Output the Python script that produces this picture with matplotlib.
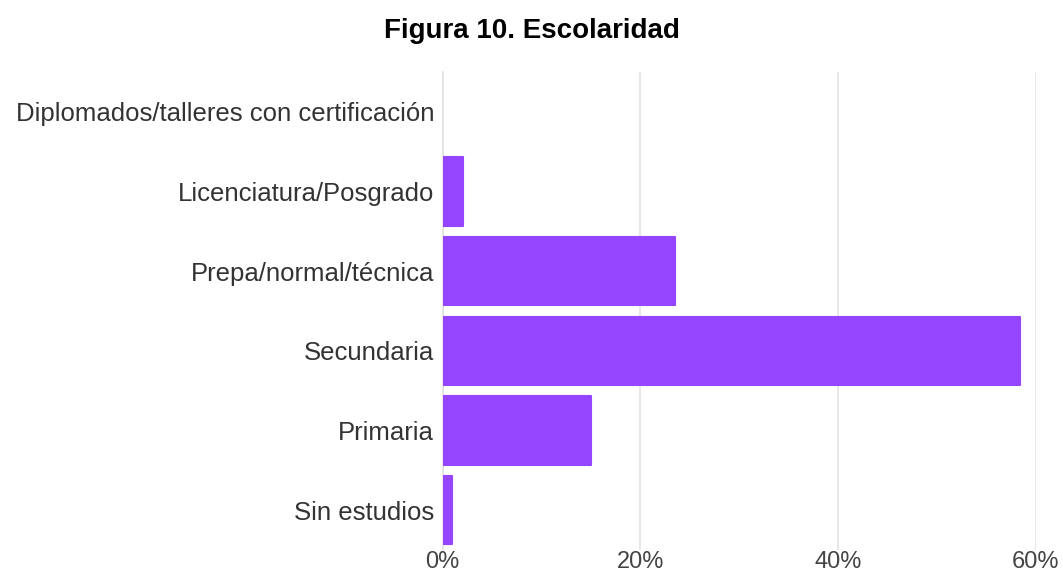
import matplotlib.pyplot as plt
from matplotlib.ticker import FuncFormatter

categorias = ['Diplomados/talleres con certificación', 'Licenciatura/Posgrado',
              'Prepa/normal/técnica', 'Secundaria', 'Primaria', 'Sin estudios']
porcentajes = [0.0, 2.1, 23.5, 58.4, 15.0, 1.0]
ticksX = [0, 20, 40, 60]

plt.rcParams['font.family'] = ['Liberation Sans', 'DejaVu Sans']

fig = plt.figure(figsize=(10.63, 5.73), dpi=100)
ax = fig.add_axes([442.5 / 1063, 1 - 550 / 573, (1035.5 - 442.5) / 1063, (550 - 72) / 573])

yPos = list(range(len(categorias)))[::-1]
anchos = [1.5 if p > 0 else 0 for p in porcentajes]
ax.barh(yPos, porcentajes, height=0.86, color='#9645ff', edgecolor='#9645ff',
        linewidth=anchos, joinstyle='round', zorder=3)

ax.set_xlim(0, 60)
ax.set_ylim(-0.5, len(categorias) - 0.5)
ax.set_yticks(yPos)
ax.set_yticklabels(categorias, fontsize=18.5, color='#333333')
ax.set_xticks(ticksX)
ax.xaxis.set_major_formatter(FuncFormatter(lambda v, p: '{0:.0f}%'.format(v)))
ax.tick_params(axis='x', labelsize=17, labelcolor='#444444', length=0, pad=1)
ax.tick_params(axis='y', length=0, pad=6)

ax.xaxis.grid(True, color='#e3e3e3', linewidth=1.2, zorder=0)
for s in ['top', 'right', 'bottom']:
    ax.spines[s].set_visible(False)
ax.spines['left'].set_color('#e3e3e3')
ax.spines['left'].set_linewidth(1.2)

fig.text(0.5, 1 - 31 / 573, 'Figura 10. Escolaridad', ha='center', va='center',
         fontsize=20, fontweight='bold', color='#000000')

fig.savefig('out.png', dpi=100)
